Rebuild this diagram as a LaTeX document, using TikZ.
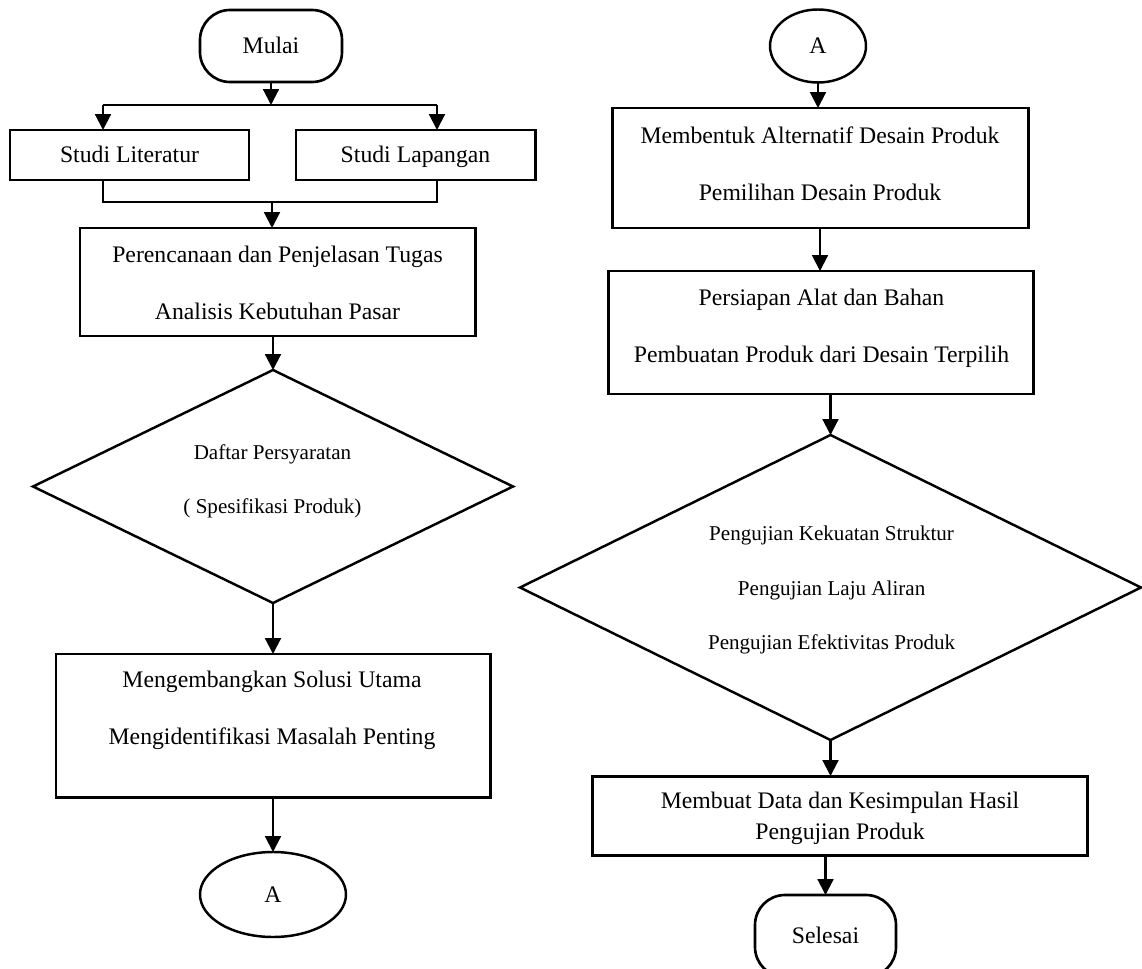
\documentclass[tikz,border=0pt]{standalone}
\usepackage{fontspec}
\setmainfont{Liberation Serif}
\usetikzlibrary{arrows.meta,shapes.geometric}
\newcommand\pxl[1]{#1*0.02cm}
\begin{document}
\begin{tikzpicture}[x=0.02cm,y=-0.02cm,
  box/.style={draw, line width=1.7pt, inner sep=0pt, outer sep=0pt, font=\fontsize{13.5}{16}\selectfont},
  onel/.style={text height=9pt, text depth=0pt},
  term/.style={box, rounded corners=0.6cm, line width=1.5pt},
  dia/.style={draw, diamond, line width=1.4pt, inner sep=0pt, outer sep=0pt},
  conn/.style={draw, ellipse, line width=1.4pt, inner sep=0pt, outer sep=0pt, font=\fontsize{13.5}{16}\selectfont},
  txt/.style={align=center, inner sep=0pt, font=\fontsize{13.5}{32.5}\selectfont},
  txtd/.style={align=center, inner sep=0pt, font=\fontsize{12}{31}\selectfont},
  arr/.style={-{Triangle[width=9pt,length=9pt]}, line width=1.2pt},
  thinline/.style={line width=0.7pt}]
\clip (0,0) rectangle (1142,969);
\fill[white] (0,0) rectangle (1142,969);
% left column
\node[term, onel, minimum width=\pxl{142}, minimum height=\pxl{72}] (mulai) at (271,46) {Mulai};
\coordinate (bM) at (271,105);
\coordinate (bL) at (103,105);
\coordinate (bR) at (437,105);
\node[box, onel, minimum width=\pxl{239}, minimum height=\pxl{50}] (lit) at (129.5,155) {Studi Literatur};
\node[box, onel, minimum width=\pxl{239}, minimum height=\pxl{50}] (lap) at (415.5,155) {Studi Lapangan};
\coordinate (jL) at (103,202);
\coordinate (jR) at (437,202);
\coordinate (jM) at (272,202);
\node[box, minimum width=\pxl{395}, minimum height=\pxl{108}] (pren) at (277.5,282) {};
\node[txt] (prent) at (277.5,282.5) {Perencanaan dan Penjelasan Tugas\\Analisis Kebutuhan Pasar};
\node[dia, minimum width=\pxl{480}, minimum height=\pxl{233}] (d1) at (273,486.5) {};
\node[txtd] (d1t) at (272.5,481.5) {Daftar Persyaratan\\( Spesifikasi Produk)};
\node[box, minimum width=\pxl{434}, minimum height=\pxl{143}] (mk) at (273,725.5) {};
\node[txt] (mkt) at (272,710) {Mengembangkan Solusi Utama\\Mengidentifikasi Masalah Penting};
\node[conn, onel, minimum width=\pxl{146}, minimum height=\pxl{85}] (aL) at (273,894.5) {A};
% right column
\node[conn, onel, minimum width=\pxl{96}, minimum height=\pxl{73}] (aR) at (818,46) {A};
\node[box, minimum width=\pxl{416}, minimum height=\pxl{120}] (mb) at (820,168) {};
\node[txt] (mbt) at (820,164) {Membentuk Alternatif Desain Produk\\Pemilihan Desain Produk};
\node[box, minimum width=\pxl{425}, minimum height=\pxl{123}] (ps) at (820.5,332.5) {};
\node[txt] (pst) at (821.5,328.5) {Persiapan Alat dan Bahan\\Pembuatan Produk dari Desain Terpilih};
\node[dia, minimum width=\pxl{621}, minimum height=\pxl{305}] (d2) at (830.5,587.5) {};
\node[txtd] (d2t) at (831.6,590) {Pengujian Kekuatan Struktur\\Pengujian Laju Aliran\\Pengujian Efektivitas Produk};
\node[box, minimum width=\pxl{495}, minimum height=\pxl{79}] (hs) at (839.5,815.5) {};
\node[txt, font=\fontsize{13.5}{17.6}\selectfont] (hst) at (840,818) {Membuat Data dan Kesimpulan Hasil\\Pengujian Produk};
\node[term, onel, minimum width=\pxl{141}, minimum height=\pxl{82}] (sel) at (825.5,936) {Selesai};
% connectors left
\draw[arr] (mulai.south) -- (bM);
\draw[thinline] (bL) -- (bR);
\draw[arr] (bL) -- (lit.north -| bL);
\draw[arr] (bR) -- (lap.north -| bR);
\draw[thinline] (lit.south -| jL) -- (jL) -- (jR) -- (lap.south -| jR);
\draw[arr] (jM) -- (pren.north -| jM);
\draw[arr] (pren.south -| d1.north) -- (d1.north);
\draw[arr] (d1.south) -- (mk.north -| d1.south);
\draw[arr] (mk.south -| aL.north) -- (aL.north);
% connectors right
\draw[arr] (aR.south) -- (mb.north -| aR.south);
\draw[arr] (mb.south) -- (ps.north -| mb.south);
\draw[arr] (ps.south -| d2.north) -- (d2.north);
\draw[arr] (d2.south) -- (hs.north -| d2.south);
\draw[arr] (hs.south -| sel.north) -- (sel.north);
\end{tikzpicture}
\end{document}
